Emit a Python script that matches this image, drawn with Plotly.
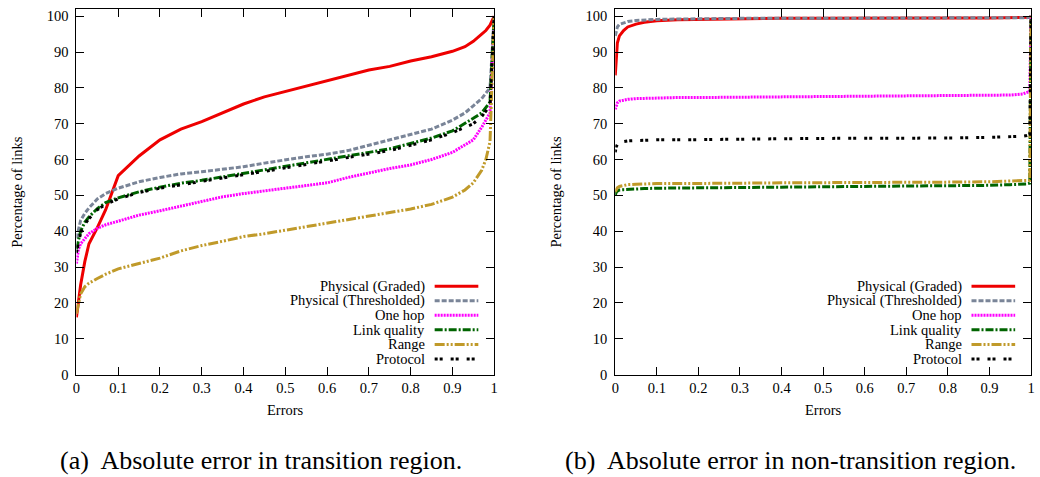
import plotly.graph_objects as go

FONT = "Liberation Serif"

# ---------------- data ----------------
series_names = ["Physical (Graded)", "Physical (Thresholded)", "One hop",
                "Link quality", "Range", "Protocol"]

x_ticks = [0, 0.1, 0.2, 0.3, 0.4, 0.5, 0.6, 0.7, 0.8, 0.9, 1]
x_tick_labels = ["0", "0.1", "0.2", "0.3", "0.4", "0.5", "0.6", "0.7", "0.8", "0.9", "1"]
y_ticks = [0, 10, 20, 30, 40, 50, 60, 70, 80, 90, 100]

# (a) transition region
x_trans = [0, 0.005, 0.01, 0.02, 0.03, 0.05, 0.07, 0.1, 0.15, 0.2, 0.25, 0.3, 0.35,
           0.4, 0.45, 0.5, 0.55, 0.6, 0.65, 0.7, 0.75, 0.8, 0.85, 0.9, 0.93, 0.95,
           0.97, 0.98, 0.99, 0.995, 1.0]
graded_trans = [16, 21, 25, 31.5, 36.5, 41, 46, 55.5, 61, 65.5, 68.5, 70.6, 73,
                75.5, 77.5, 79, 80.5, 82, 83.5, 85, 86, 87.5, 88.7, 90.2, 91.5, 93,
                95, 96, 97.5, 99, 100]
thresh_trans = [38, 41, 43, 45, 46.5, 49, 50.5, 52, 53.8, 55, 56, 56.6, 57.3,
                58, 59, 60, 60.8, 61.5, 62.5, 64, 65.5, 67, 68.5, 71, 73, 75,
                77, 78.5, 80, 90, 100]
onehop_trans = [31, 35, 36.5, 38, 39.3, 40.8, 41.8, 42.8, 44.5, 45.7, 47, 48.5, 49.6,
                50.5, 51.3, 52, 52.8, 53.5, 55, 56.3, 57.5, 58.5, 60, 62, 64, 65.5,
                69, 71, 73, 86, 100]
linkq_trans = [35, 38, 40, 42.5, 44, 46.3, 48, 49.3, 51, 52.3, 53.4, 54.2, 55.2,
               56, 57, 58, 59, 60, 61, 62, 63, 64.5, 66, 68, 70, 71.5,
               73, 74.5, 76, 88, 100]
range_trans = [17, 20, 22.5, 24.5, 25.5, 26.8, 28, 29.5, 31, 32.5, 34.5, 36, 37.2,
               38.5, 39.3, 40.3, 41.3, 42.3, 43.3, 44.3, 45.3, 46.2, 47.5, 49.5, 51.5, 53.5,
               57, 60, 65, 80, 100]
proto_trans = [34, 37, 39.5, 42, 43.5, 46, 47.5, 49, 50.8, 52, 53, 54, 55,
               55.8, 56.7, 57.7, 58.7, 59.6, 60.5, 61.5, 62.5, 64, 65.5, 67.5, 69, 70,
               72, 73.5, 75, 88, 100]

# (b) non-transition region
x_nontrans = [0, 0.002, 0.005, 0.01, 0.02, 0.03, 0.05, 0.07, 0.1, 0.15, 0.2, 0.3,
              0.4, 0.5, 0.6, 0.7, 0.8, 0.9, 0.95, 0.98, 0.99, 0.997, 1.0]
graded_nontrans = [83.5, 89, 92.5, 94.5, 96, 97, 97.8, 98.3, 98.7, 99, 99.1, 99.3,
                   99.4, 99.4, 99.5, 99.5, 99.5, 99.5, 99.6, 99.6, 99.6, 99.7, 100]
thresh_nontrans = [94.5, 96, 97, 97.7, 98.2, 98.5, 98.8, 99, 99.1, 99.2, 99.3, 99.4,
                   99.4, 99.4, 99.5, 99.5, 99.5, 99.5, 99.6, 99.6, 99.6, 99.7, 100]
onehop_nontrans = [74, 75, 75.8, 76.3, 76.6, 76.8, 77, 77.1, 77.2, 77.3, 77.3, 77.4,
                   77.4, 77.5, 77.5, 77.6, 77.7, 77.8, 78, 78.3, 78.6, 79, 100]
linkq_nontrans = [50, 50.8, 51.2, 51.5, 51.6, 51.7, 51.8, 51.9, 52, 52.1, 52.1, 52.2,
                  52.3, 52.4, 52.4, 52.5, 52.6, 52.8, 53, 53.1, 53.2, 53.4, 100]
range_nontrans = [51, 51.7, 52.1, 52.5, 52.8, 53, 53.1, 53.2, 53.3, 53.3, 53.4, 53.4,
                  53.5, 53.5, 53.6, 53.6, 53.7, 53.8, 53.9, 54, 54, 54.2, 100]
proto_nontrans = [62, 63.5, 64.2, 64.7, 65, 65.2, 65.3, 65.4, 65.5, 65.5, 65.6, 65.7,
                  65.8, 65.9, 65.9, 66, 66, 66.2, 66.3, 66.5, 66.7, 67, 100]

trans_values = [graded_trans, thresh_trans, onehop_trans, linkq_trans, range_trans, proto_trans]
nontrans_values = [graded_nontrans, thresh_nontrans, onehop_nontrans, linkq_nontrans,
                   range_nontrans, proto_nontrans]

captions = ["(a)\u00a0 Absolute error in transition region.",
            "(b)\u00a0 Absolute error in non-transition region."]

# ---------------- styles ----------------
styles = [
    dict(color="#ee0000", dash="solid"),
    dict(color="#7a8598", dash="5px,2px"),
    dict(color="#ff00ff", dash="2px,1px"),
    dict(color="#006400", dash="8px,2px,2px,2px"),
    dict(color="#c09a2a", dash="10px,2px,2px,2px,2px,2px"),
    dict(color="#000000", dash="3px,2px,3px,8px"),
]
LW = 3
FS = 14.5

# page size and reference frame used for placing elements
W, H = 1040, 488
REF_W, REF_H = 1040, 477

def X(px):
    return px / REF_W

def Y(py):
    return 1 - py / REF_H

plot_left = [(73, 494), (616, 1035)]
plot_top, plot_bottom = 8, 372

fig = go.Figure()

for name, vals, st in zip(series_names, trans_values, styles):
    fig.add_trace(go.Scatter(x=x_trans, y=vals, mode="lines", name=name,
                             line=dict(color=st["color"], dash=st["dash"], width=LW),
                             xaxis="x", yaxis="y", showlegend=False))
for name, vals, st in zip(series_names, nontrans_values, styles):
    fig.add_trace(go.Scatter(x=x_nontrans, y=vals, mode="lines", name=name,
                             line=dict(color=st["color"], dash=st["dash"], width=LW),
                             xaxis="x2", yaxis="y2", showlegend=False))

axis_common = dict(showline=True, linecolor="black", linewidth=1, mirror="ticks",
                   ticks="inside", ticklen=8, tickcolor="black", tickwidth=1,
                   showgrid=False, zeroline=False,
                   tickfont=dict(family=FONT, size=FS, color="black"))
ydom = [Y(plot_bottom), Y(plot_top)]

fig.update_layout(
    width=W, height=H, autosize=False, margin=dict(l=0, r=0, t=0, b=0),
    paper_bgcolor="white", plot_bgcolor="white",
    font=dict(family=FONT, size=FS, color="black"),
    xaxis=dict(domain=[X(plot_left[0][0]), X(plot_left[0][1])], range=[0, 1],
               tickvals=x_ticks, ticktext=x_tick_labels, anchor="y", **axis_common),
    yaxis=dict(domain=ydom, range=[0, 102], tickvals=y_ticks, anchor="x",
               ticklabelstandoff=4, **axis_common),
    xaxis2=dict(domain=[X(plot_left[1][0]), X(plot_left[1][1])], range=[0, 1],
                tickvals=x_ticks, ticktext=x_tick_labels, anchor="y2", **axis_common),
    yaxis2=dict(domain=ydom, range=[0, 102], tickvals=y_ticks, anchor="x2",
                ticklabelstandoff=4, **axis_common),
)

annotations = []
shapes = []
for k, (l, r) in enumerate(plot_left):
    cx = (l + r) / 2
    annotations.append(dict(text="Errors", x=X(cx), y=Y(407), xref="paper", yref="paper",
                            showarrow=False, xanchor="center", yanchor="middle",
                            font=dict(family=FONT, size=FS)))
    annotations.append(dict(text="Percentage of links", x=X(l - 60), y=Y(190),
                            xref="paper", yref="paper", showarrow=False, textangle=-90,
                            xanchor="center", yanchor="middle",
                            font=dict(family=FONT, size=FS)))
    text_right = r - 68
    s0, s1 = r - 60, r - 16
    for i, (name, st) in enumerate(zip(series_names, styles)):
        ry = 284 + 14.5 * i
        annotations.append(dict(text=name, x=X(text_right), y=Y(ry), xref="paper",
                                yref="paper", showarrow=False, xanchor="right",
                                yanchor="middle", font=dict(family=FONT, size=FS)))
        shapes.append(dict(type="line", xref="paper", yref="paper",
                           x0=X(s0), x1=X(s1), y0=Y(ry), y1=Y(ry),
                           line=dict(color=st["color"], dash=st["dash"], width=LW)))

cap_centers = [259, 793]
for cap, cx in zip(captions, cap_centers):
    annotations.append(dict(text=cap, x=X(cx), y=Y(458), xref="paper", yref="paper",
                            showarrow=False, xanchor="center", yanchor="middle",
                            font=dict(family=FONT, size=26)))

fig.update_layout(annotations=annotations, shapes=shapes)

fig.write_html("out.html", config={"responsive": False})
